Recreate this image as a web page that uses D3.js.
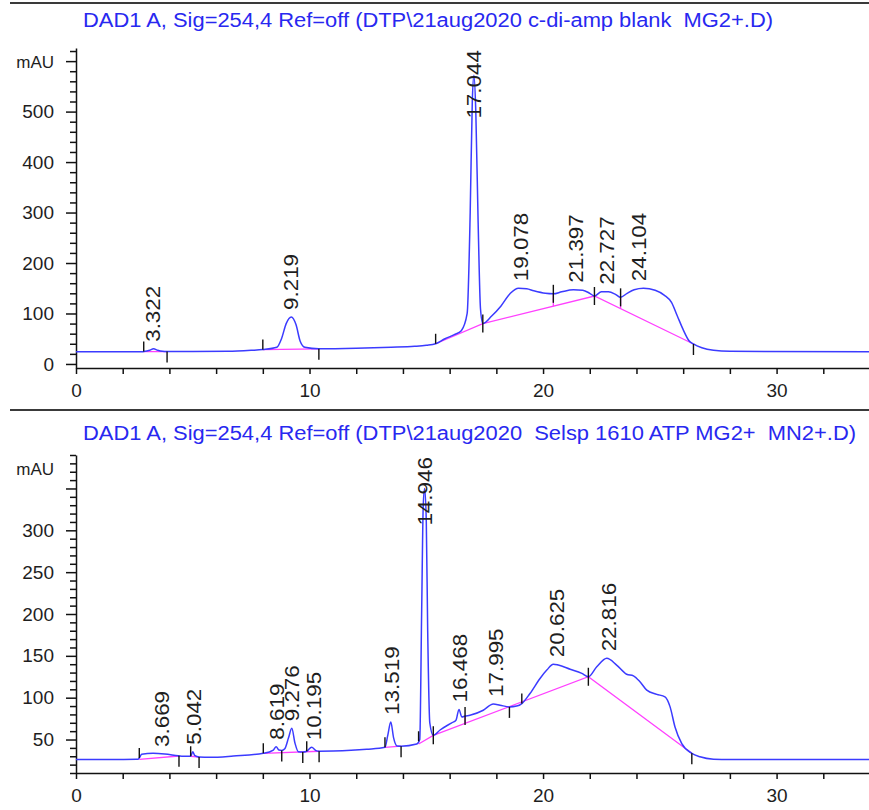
<!DOCTYPE html>
<html>
<head>
<meta charset="utf-8">
<script src="https://cdn.jsdelivr.net/npm/d3@7"></script>
<style>
  body { margin: 0; background: #fff; }
  svg { display: block; font-family: "Liberation Sans", Arial, sans-serif; }
</style>
</head>
<body>
<svg id="chart" width="869" height="810"></svg>
<script>
// ---- Run 1: c-di-amp blank, Mg2+ ----
const blankTitle = "DAD1 A, Sig=254,4 Ref=off (DTP\\21aug2020 c-di-amp blank  MG2+.D)";
const blankTime = [0, 2.8, 2.9, 3.15, 3.32, 3.5, 3.7, 3.9, 5.0, 6.5, 7.5, 8.0, 8.6, 8.8, 9.0, 9.22, 9.42, 9.6, 9.8,
  10.4, 12.0, 13.5, 14.5, 15.0, 15.4, 15.8, 16.2, 16.5, 16.75, 16.88, 16.97, 17.04, 17.12, 17.22, 17.32, 17.42,
  17.8, 18.2, 18.6, 18.95, 19.3, 19.6, 20.1, 20.44, 20.8, 21.3, 21.7, 22.0, 22.2, 22.5, 22.8, 23.1, 23.32,
  23.6, 23.9, 24.3, 24.8, 25.2, 25.5, 25.75, 26.0, 26.25, 26.44, 26.8, 27.3, 28.0, 34.0];
const blankSignal = [24, 24, 24.5, 27, 30, 27, 25, 24.5, 24.5, 25, 27, 28.5, 33, 50, 80, 93, 78, 45, 33,
  30, 31, 33, 35, 37, 40, 50, 58, 66, 100, 300, 520, 572, 500, 280, 110, 80,
  95, 115, 140, 150, 149, 145, 140, 139, 143, 147, 146, 140, 134.6, 143, 143, 138, 132,
  140, 147, 150, 146, 136, 122, 95, 68, 46, 39.6, 32, 27, 25, 24];
const blankPeaks = ["3.322", "9.219", "17.044", "19.078", "21.397", "22.727", "24.104"];
// integration baselines: polylines of [time, mAU]
const blankBaselines = [
  [[2.9, 24.5], [3.9, 24.5]],
  [[8.0, 28.5], [10.4, 30]],
  [[15.4, 40], [17.42, 80], [22.2, 134.6], [26.44, 39.6]]
];
// peak start / end / split markers
const blankMarks = [[2.9, "s"], [3.9, "e"], [8.0, "s"], [10.4, "e"], [15.4, "s"], [17.42, "m"],
  [20.44, "m"], [22.2, "m"], [23.32, "m"], [26.44, "e"]];
const blankDrops = [20.44, 23.32];
const blankTicksY = d3.range(0, 621, 20);

// ---- Run 2: Selsp 1610, ATP, Mg2+ / Mn2+ ----
const selTitle = "DAD1 A, Sig=254,4 Ref=off (DTP\\21aug2020  Selsp 1610 ATP MG2+  MN2+.D)";
const selTime = [0, 2.65, 2.71, 2.81, 3.3, 3.8, 4.38, 4.6, 4.91, 5.0, 5.08, 5.27, 5.74, 6.74, 8.02, 8.45, 8.57,
  8.69, 8.81, 8.94, 9.1, 9.24, 9.38, 9.52, 9.71, 9.88, 10.09, 10.28, 10.41, 11.02, 12.45, 13.23, 13.35, 13.48,
  13.6, 13.75, 13.92, 14.59, 14.72, 14.8, 14.87, 14.93, 15.0, 15.06, 15.15, 15.3, 15.59, 16.09, 16.27, 16.4,
  16.52, 16.66, 16.87, 17.44, 17.87, 18.16, 18.56, 18.87, 19.09, 19.44, 19.87, 20.16, 20.44, 20.65, 21.16,
  21.66, 21.94, 22.3, 22.73, 23.15, 23.58, 23.87, 24.15, 24.44, 24.87, 25.22, 25.44, 25.65, 25.94, 26.37,
  26.72, 27.3, 28.0, 34.0];
const selSignal = [26, 26.3, 28, 32.3, 33.5, 32.7, 30.6, 30, 30, 35.4, 31, 29, 28.7, 30.3, 33.5, 37.4, 41.4,
  37.4, 37, 39, 52, 63.4, 45.4, 35.4, 35, 36, 40.7, 36.7, 36, 36.2, 38.3, 40.7, 55, 71,
  52, 42.2, 42, 44.6, 50, 200, 330, 350, 310, 180, 70, 55, 61.4, 70, 73, 86,
  77, 78, 79, 85, 92.5, 91, 89, 90, 93, 105, 123, 133, 140, 139, 134,
  129, 125, 137, 147, 139, 128, 126, 119, 109, 104, 101, 89, 65, 45, 33.5,
  29.4, 26.5, 26, 26];
const selPeaks = ["3.669", "5.042", "8.619", "9.276", "10.195", "13.519", "14.946", "16.468", "17.995", "20.625", "22.816"];
const selBaselines = [
  [[2.71, 26.3], [4.41, 30.3]],
  [[4.91, 30], [5.27, 29]],
  [[8.02, 33.5], [10.41, 36]],
  [[13.23, 40.7], [13.92, 42]],
  [[14.67, 44.6], [15.3, 55], [21.94, 125], [26.37, 33.5]]
];
const selMarks = [[2.71, "s"], [4.41, "e"], [4.91, "s"], [5.27, "e"], [8.02, "s"], [8.81, "e"], [9.71, "e"],
  [9.88, "s"], [10.41, "e"], [13.23, "s"], [13.92, "e"], [14.67, "s"], [15.3, "m"], [16.66, "m"],
  [18.56, "e"], [19.09, "s"], [21.94, "m"], [26.37, "e"]];
const selDrops = [16.66];
const selTicksY = d3.range(10, 391, 10);

const timeTicks = d3.range(0, 35, 2);

const svg = d3.select("#chart");
const COL_TRACE = "#3b3bff", COL_BASE = "#ff40ff", COL_TITLE = "#2828f0", COL_TEXT = "#1e1e1e";

// separator rules above each run
[3, 410].forEach(yy => svg.append("line")
  .attr("x1", 10).attr("x2", 869).attr("y1", yy).attr("y2", yy)
  .attr("stroke", "#3a3a3a").attr("stroke-width", 2.2));

function interp(ts, vs, t) {
  const i = d3.bisectLeft(ts, t);
  if (i <= 0) return vs[0];
  if (i >= ts.length) return vs[vs.length - 1];
  const t0 = ts[i - 1], t1 = ts[i];
  return vs[i - 1] + (vs[i] - vs[i - 1]) * (t - t0) / (t1 - t0);
}

function drawRun(cfg) {
  const x = d3.scaleLinear().domain([0, 34]).range([76, 870]);
  const y = d3.scaleLinear().domain(cfg.yDomain).range([cfg.bottom, cfg.top]);
  const g = svg.append("g");

  g.append("text")
    .attr("x", 83).attr("y", cfg.titleY)
    .attr("fill", COL_TITLE).attr("font-size", 20)
    .attr("textLength", cfg.titleLen).attr("lengthAdjust", "spacingAndGlyphs")
    .style("white-space", "pre")
    .text(cfg.title);

  // time axis
  const xa = g.append("g").attr("transform", `translate(0,${cfg.bottom})`)
    .call(d3.axisBottom(x).tickValues(timeTicks).tickSize(6).tickSizeOuter(0).tickPadding(10)
      .tickFormat(d => d % 10 === 0 ? d : ""));
  // signal axis
  const ya = g.append("g").attr("transform", "translate(76,0)")
    .call(d3.axisLeft(y).tickValues(cfg.ticksY).tickSize(10).tickSizeOuter(0).tickPadding(12)
      .tickFormat(d => d % cfg.major === 0 ? d : ""));
  const unitY = cfg.top + 14;
  ya.selectAll(".tick").each(function (d) {
    const t = d3.select(this);
    if (d % cfg.major !== 0) t.select("line").attr("x2", -6);
    if (Math.abs(y(d) - unitY) < 22) t.select("text").text("");
  });
  [xa, ya].forEach(a => {
    a.attr("font-family", null).attr("font-size", 19);
    a.selectAll("path,line").attr("stroke", "#111").attr("stroke-width", 1.5);
    a.selectAll("text").attr("fill", COL_TEXT);
  });
  g.append("text").attr("x", 54).attr("y", unitY).attr("dy", "0.35em")
    .attr("text-anchor", "end").attr("font-size", 17).attr("fill", COL_TEXT).text("mAU");

  // integration baselines
  const lineT = d3.line().x(d => x(d[0])).y(d => y(d[1]));
  cfg.baselines.forEach(b => g.append("path").attr("d", lineT(b))
    .attr("fill", "none").attr("stroke", COL_BASE).attr("stroke-width", 1.3));
  // drop lines from trace down to baseline
  const allBase = cfg.baselines;
  cfg.drops.forEach(t => {
    const seg = allBase.find(b => t >= b[0][0] && t <= b[b.length - 1][0]);
    const bv = interp(seg.map(p => p[0]), seg.map(p => p[1]), t);
    const sv = interp(cfg.time, cfg.signal, t);
    g.append("line").attr("x1", x(t)).attr("x2", x(t)).attr("y1", y(sv)).attr("y2", y(bv))
      .attr("stroke", COL_BASE).attr("stroke-width", 1.3);
  });

  // trace
  const pts = cfg.time.map((t, i) => [t, cfg.signal[i]]);
  g.append("path")
    .attr("d", d3.line().x(d => x(d[0])).y(d => y(d[1])).curve(d3.curveMonotoneX)(pts))
    .attr("fill", "none").attr("stroke", COL_TRACE).attr("stroke-width", 1.5)
    .attr("stroke-linejoin", "round");

  // peak event markers
  cfg.marks.forEach(([t, kind]) => {
    const yy = y(interp(cfg.time, cfg.signal, t));
    const y1 = kind === "s" ? yy - 10 : kind === "e" ? yy : yy - 9;
    const y2 = kind === "s" ? yy : kind === "e" ? yy + 11 : yy + 9;
    g.append("line").attr("x1", x(t)).attr("x2", x(t)).attr("y1", y1).attr("y2", y2)
      .attr("stroke", "#111").attr("stroke-width", 1.4);
  });

  // retention time labels
  cfg.peaks.forEach(lbl => {
    const t = +lbl;
    let apex = -Infinity;
    cfg.time.forEach((tt, i) => { if (Math.abs(tt - t) <= 0.25) apex = Math.max(apex, cfg.signal[i]); });
    const txt = g.append("text").attr("font-size", 19.5).attr("fill", COL_TEXT)
      .attr("dy", "0.35em").text(lbl);
    const len = txt.node().getComputedTextLength() * 1.15;
    const yb = Math.max(y(apex) - 7, cfg.top + 2 + len);
    txt.attr("transform", `translate(${x(t)},${yb}) rotate(-90) scale(1.15,1)`);
  });
}

drawRun({
  title: blankTitle, titleY: 27, titleLen: 690,
  time: blankTime, signal: blankSignal, peaks: blankPeaks,
  baselines: blankBaselines, marks: blankMarks, drops: blankDrops,
  yDomain: [-8, 626], top: 48, bottom: 368, ticksY: blankTicksY, major: 100
});
drawRun({
  title: selTitle, titleY: 440, titleLen: 773,
  time: selTime, signal: selSignal, peaks: selPeaks,
  baselines: selBaselines, marks: selMarks, drops: selDrops,
  yDomain: [10, 390], top: 455, bottom: 773, ticksY: selTicksY, major: 50
});
</script>
</body>
</html>
